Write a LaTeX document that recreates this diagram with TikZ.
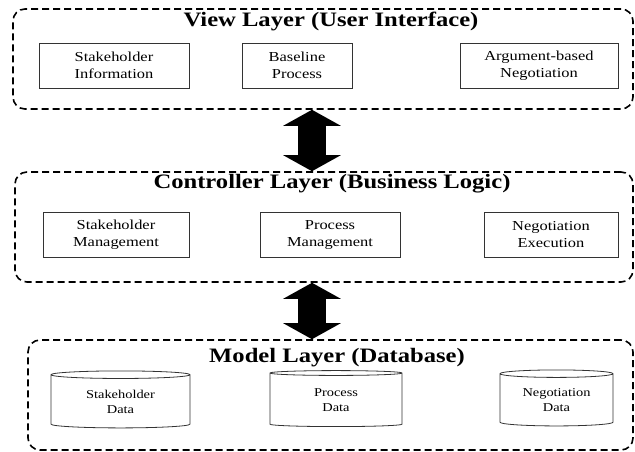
\documentclass[tikz,border=0pt]{standalone}
\usepackage{fontspec}
\setmainfont{Liberation Serif}[FakeStretch=1.2]
\usetikzlibrary{arrows.meta,shapes.geometric}

\begin{document}
\begin{tikzpicture}
  [x=1pt, y=-1pt,
   layer/.style={draw, dashed, dash pattern=on 7pt off 4pt, line width=1.6pt,
     rounded corners=12pt, inner sep=0pt},
   layertitle/.style={font=\fontsize{20.5}{24}\selectfont\bfseries, anchor=base, inner sep=0pt},
   part/.style={draw=black!80, line width=0.8pt, align=center, inner sep=0pt,
     font=\fontsize{13.7}{17}\selectfont},
   store/.style={cylinder, shape border rotate=90, aspect=0.11, draw=black!80,
     line width=0.8pt, align=center, inner sep=0pt, font=\fontsize{12}{15}\selectfont},
   bigarrow/.style={line width=28pt, {Triangle[width=57pt,length=16pt]}-{Triangle[width=57pt,length=16pt]}}]
  \useasboundingbox (0,0) rectangle (635,452);

  % the three layers
  \node[layer, minimum width=620pt, minimum height=100pt] (view) at (323,59) {};
  \node[layer, minimum width=618pt, minimum height=110pt] (ctrl) at (324,227) {};
  \node[layer, minimum width=605pt, minimum height=110pt] (model) at (330.5,395) {};

  \node[layertitle] (viewtitle) at (331,27) {View Layer (User Interface)};
  \node[layertitle] (ctrltitle) at (332,188) {Controller Layer (Business Logic)};
  \node[layertitle] (modeltitle) at (337,362) {Model Layer (Database)};

  % view
  \node[part, minimum width=150pt, minimum height=45pt] (info) at (114,65.5) {Stakeholder\\Information};
  \node[part, minimum width=110pt, minimum height=45pt] (base) at (297,65.5) {Baseline\\Process};
  \node[part, minimum width=158pt, minimum height=45pt] (arg) at (539,65.5) {Argument-based\\Negotiation};

  % controller
  \node[part, minimum width=146pt, minimum height=45pt] (smgmt) at (116,234.5) {Stakeholder\\Management};
  \node[part, minimum width=140pt, minimum height=45pt] (pmgmt) at (330,234.5) {Process\\Management};
  \node[part, minimum width=134pt, minimum height=45pt] (nexec) at (551,234.5) {Negotiation\\Execution};

  % model
  \node[store, minimum width=139pt, minimum height=57pt] (sdata) at (120.5,401.5) {Stakeholder\\Data};
  \node[store, minimum width=132pt, minimum height=56pt] (pdata) at (336,400) {Process\\Data};
  \node[store, minimum width=113pt, minimum height=56pt] (ndata) at (556.5,400) {Negotiation\\Data};

  % arrows between layers
  \coordinate (ax) at (312,0);
  \draw[bigarrow] (view.south -| ax) -- (ctrl.north -| ax);
  \draw[bigarrow] (ctrl.south -| ax) -- (model.north -| ax);
\end{tikzpicture}
\end{document}
